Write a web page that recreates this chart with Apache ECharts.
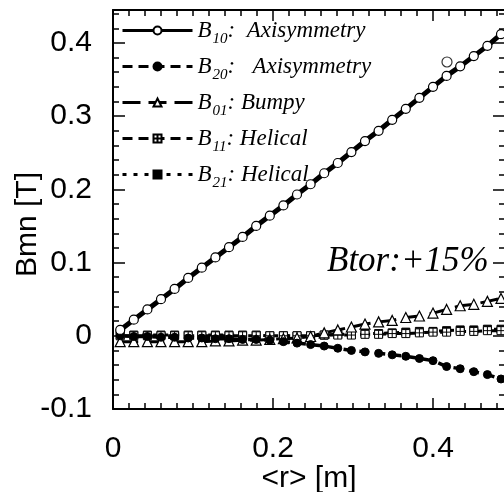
<!DOCTYPE html>
<html>
<head>
<meta charset="utf-8">
<style>
  html, body { margin: 0; padding: 0; background: #fff; }
  #main { width: 504px; height: 492px; }
</style>
<script src="https://cdn.jsdelivr.net/npm/echarts@6/dist/echarts.min.js"></script>
</head>
<body>
<div id="main"></div>
<script>
// <r> [m] sample positions
var radius = [0.009, 0.026, 0.043, 0.060, 0.077, 0.094, 0.111, 0.128, 0.145, 0.162,
  0.179, 0.196, 0.213, 0.230, 0.247, 0.264, 0.281, 0.298, 0.315, 0.332,
  0.349, 0.366, 0.383, 0.400, 0.417, 0.434, 0.451, 0.468, 0.485];

// Bmn [T]
var b10 = [0.008, 0.022, 0.036, 0.050, 0.064, 0.079, 0.093, 0.107, 0.121, 0.135,
  0.150, 0.164, 0.178, 0.193, 0.207, 0.222, 0.236, 0.251, 0.266, 0.280,
  0.295, 0.310, 0.325, 0.340, 0.355, 0.368, 0.382, 0.396, 0.412];
var b20 = [0.000, -0.001, -0.001, -0.002, -0.002, -0.003, -0.003, -0.004, -0.004, -0.005,
  -0.005, -0.006, -0.008, -0.010, -0.012, -0.014, -0.017, -0.020, -0.022, -0.024,
  -0.026, -0.028, -0.031, -0.034, -0.042, -0.045, -0.049, -0.053, -0.059];
var b01 = [-0.008, -0.008, -0.008, -0.008, -0.008, -0.008, -0.008, -0.007, -0.007, -0.006,
  -0.006, -0.005, -0.004, -0.003, -0.001, 0.004, 0.008, 0.012, 0.016, 0.019,
  0.021, 0.025, 0.027, 0.031, 0.036, 0.041, 0.043, 0.047, 0.051];
var b11 = [0.000, 0.000, 0.000, 0.000, 0.000, 0.000, 0.000, 0.000, 0.000, 0.000,
  0.000, 0.000, 0.000, 0.000, 0.000, 0.001, 0.001, 0.001, 0.002, 0.002,
  0.003, 0.003, 0.004, 0.005, 0.005, 0.006, 0.006, 0.007, 0.007];
var b21 = [0.001, 0.001, 0.001, 0.001, 0.001, 0.001, 0.001, 0.001, 0.001, 0.001,
  0.001, 0.000, 0.000, 0.000, 0.000, 0.001, 0.002, 0.002, 0.003, 0.003,
  0.004, 0.005, 0.006, 0.006, 0.007, 0.008, 0.008, 0.009, 0.009];
// stray B10 circle above the curve
var b10Stray = [[0.4175, 0.374]];

var legendText = {
  B10: ['10', ':  Axisymmetry'],
  B20: ['20', ':   Axisymmetry'],
  B01: ['01', ': Bumpy'],
  B11: ['11', ': Helical'],
  B21: ['21', ': Helical']
};

function pairs(ys) {
  return radius.map(function (r, i) { return [r, ys[i]]; });
}

var chart = echarts.init(document.getElementById('main'));

var sans = 'Liberation Sans';
var serif = 'Liberation Serif';
var black = '#000';

function xAx(pos, interval, len, main) {
  return {
    type: 'value', min: 0, max: 0.49, interval: interval, position: pos,
    axisLine: { show: main, onZero: false, lineStyle: { color: black, width: 2 } },
    axisTick: { inside: true, length: len, lineStyle: { color: black, width: 1.5 } },
    axisLabel: { show: false },
    splitLine: { show: false }
  };
}
function yAx(pos, interval, len, main) {
  return {
    type: 'value', min: -0.1, max: 0.445, interval: interval, position: pos,
    axisLine: { show: main, onZero: false, lineStyle: { color: black, width: 2 } },
    axisTick: { inside: true, length: len, lineStyle: { color: black, width: 1.5 } },
    axisLabel: { show: false },
    splitLine: { show: false }
  };
}

var xMain = xAx('bottom', 0.2, 11, true);
xMain.axisLabel = { show: true, fontFamily: sans, fontSize: 30, color: black, margin: 25, showMaxLabel: false };
xMain.name = '<r> [m]';
xMain.nameLocation = 'middle';
xMain.nameGap = 55;
xMain.nameMoveOverlap = false;
xMain.nameTextStyle = { fontFamily: sans, fontSize: 30, color: black };

var yMain = yAx('left', 0.1, 12, true);
yMain.axisLabel = { show: true, fontFamily: sans, fontSize: 30, color: black, margin: 21, showMaxLabel: false };
yMain.name = 'Bmn [T]';
yMain.nameLocation = 'middle';
yMain.nameGap = 70;
yMain.nameMoveOverlap = false;
yMain.nameTextStyle = { fontFamily: sans, fontSize: 30, color: black, padding: [0, 30, 0, 0] };

var crossSquare = 'path://M0,0H10V10H0Z M5,0V10 M0,5H10';

var legendLine = { width: 3 };

var option = {
  animation: false,
  backgroundColor: '#fff',
  grid: { left: 113, top: 10, width: 392, bottom: 83, outerBoundsMode: 'none', containLabel: false },
  xAxis: [xMain, xAx('bottom', 0.02, 6, false), xAx('top', 0.2, 11, true), xAx('top', 0.02, 6, false)],
  yAxis: [yMain, yAx('left', 0.02, 6, false), yAx('right', 0.1, 12, true), yAx('right', 0.02, 6, false)],
  legend: {
    orient: 'vertical', left: 116, top: 9,
    itemWidth: 70, itemHeight: 10, itemGap: 3,
    data: ['B10', 'B20', 'B01', 'B11', 'B21'].map(function (n) {
      return { name: n, lineStyle: legendLine };
    }),
    formatter: function (name) {
      var t = legendText[name];
      return '{b|B}{s|' + t[0] + '}{t|' + t[1] + '}';
    },
    textStyle: {
      color: black,
      rich: {
        b: { fontFamily: serif, fontStyle: 'italic', fontSize: 23, color: black, lineHeight: 26 },
        s: { fontFamily: serif, fontStyle: 'italic', fontSize: 15, color: black, padding: [18, 0, 0, 1], lineHeight: 26 },
        t: { fontFamily: serif, fontStyle: 'italic', fontSize: 23, color: black, lineHeight: 26 }
      }
    }
  },
  graphic: [{
    type: 'text', left: 327, top: 244,
    style: { text: 'Btor:+15%', fontFamily: serif, fontStyle: 'italic', fontSize: 35, fill: black }
  }],
  series: [
    {
      name: 'B21', type: 'line', data: pairs(b21), showAllSymbol: true,
      symbol: 'rect', symbolSize: 8,
      lineStyle: { color: black, width: 3, type: [4, 7] },
      itemStyle: { color: black, borderColor: black, borderWidth: 1 }
    },
    {
      name: 'B11', type: 'line', data: pairs(b11), showAllSymbol: true,
      symbol: crossSquare, symbolSize: 8,
      lineStyle: { color: black, width: 3, type: [10, 6] },
      itemStyle: { color: '#fff', borderColor: black, borderWidth: 1 }
    },
    {
      name: 'B01', type: 'line', data: pairs(b01), showAllSymbol: true,
      symbol: 'triangle', symbolSize: 10,
      lineStyle: { color: black, width: 3, type: [18, 8] },
      itemStyle: { color: '#fff', borderColor: black, borderWidth: 1.2 }
    },
    {
      name: 'B20', type: 'line', data: pairs(b20), showAllSymbol: true,
      symbol: 'circle', symbolSize: 8,
      lineStyle: { color: black, width: 3.5, type: [10, 6] },
      itemStyle: { color: black, borderColor: black, borderWidth: 1 }
    },
    {
      name: 'B10', type: 'line', data: pairs(b10), showAllSymbol: true,
      symbol: 'circle', symbolSize: 9,
      lineStyle: { color: black, width: 5 },
      itemStyle: { color: '#fff', borderColor: black, borderWidth: 1.2 }
    },
    {
      name: 'B10 stray', type: 'scatter', data: b10Stray,
      symbol: 'circle', symbolSize: 10,
      itemStyle: { color: 'rgba(255,255,255,0)', borderColor: black, borderWidth: 1.2 }
    }
  ]
};

chart.setOption(option);
</script>
</body>
</html>
